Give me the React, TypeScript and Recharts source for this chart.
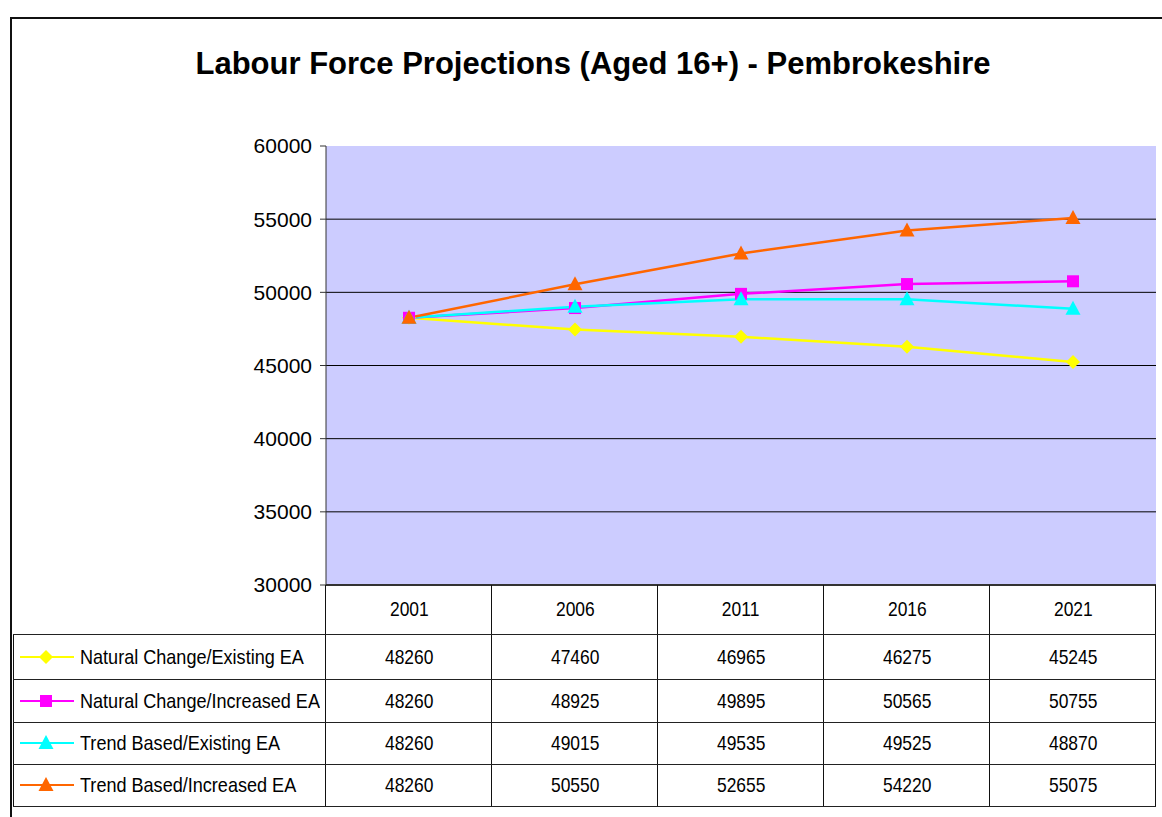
import { LineChart, Line, XAxis, YAxis, CartesianGrid, ReferenceLine } from "recharts";

const years = ["2001", "2006", "2011", "2016", "2021"];
const naturalExisting = [48260, 47460, 46965, 46275, 45245];
const naturalIncreased = [48260, 48925, 49895, 50565, 50755];
const trendExisting = [48260, 49015, 49535, 49525, 48870];
const trendIncreased = [48260, 50550, 52655, 54220, 55075];
const yTicks = [30000, 35000, 40000, 45000, 50000, 55000, 60000];

const seriesList = [
  { key: "natExisting", name: "Natural Change/Existing EA", color: "#FFFF00", shape: "diamond", values: naturalExisting },
  { key: "natIncreased", name: "Natural Change/Increased EA", color: "#FF00FF", shape: "square", values: naturalIncreased },
  { key: "trendExisting", name: "Trend Based/Existing EA", color: "#00FFFF", shape: "triangle", values: trendExisting },
  { key: "trendIncreased", name: "Trend Based/Increased EA", color: "#FF6600", shape: "triangle", values: trendIncreased },
];

const rows = years.map((year, i) => {
  const row: Record<string, string | number> = { year };
  seriesList.forEach((s) => (row[s.key] = s.values[i]));
  return row;
});

// plot box inside the 1162x817 frame
const PLOT_LEFT = 326;
const PLOT_RIGHT = 1156;
const PLOT_TOP = 146;
const PLOT_BOTTOM = 585;
const CHART_W = 1162;
const CHART_H = 600;
const Y_AXIS_W = 70;
const COL_W = (PLOT_RIGHT - PLOT_LEFT) / years.length;
const rowLines = [634, 679, 722, 764, 806];

const arial = '"Liberation Sans", Arial, sans-serif';
// no Arial Narrow here, so squeeze Liberation Sans instead
const NARROW = 0.83;

function Marker({ cx, cy, shape, color }: { cx: number; cy: number; shape: string; color: string }) {
  if (shape === "diamond") {
    return <polygon points={`${cx},${cy - 7} ${cx + 7},${cy} ${cx},${cy + 7} ${cx - 7},${cy}`} fill={color} />;
  }
  if (shape === "square") {
    return <rect x={cx - 6} y={cy - 6} width={12} height={12} fill={color} />;
  }
  return <polygon points={`${cx},${cy - 8} ${cx + 7.5},${cy + 6} ${cx - 7.5},${cy + 6}`} fill={color} />;
}

function LegendKey({ color, shape }: { color: string; shape: string }) {
  return (
    <svg width={54} height={16} style={{ display: "block" }}>
      <line x1={0} y1={8} x2={54} y2={8} stroke={color} strokeWidth={2} />
      <Marker cx={26} cy={8} shape={shape} color={color} />
    </svg>
  );
}

function Narrow({ children, origin = "center", scale = NARROW }: { children: any; origin?: string; scale?: number }) {
  return (
    <span style={{ display: "inline-block", transform: `scaleX(${scale})`, transformOrigin: origin, whiteSpace: "nowrap" }}>
      {children}
    </span>
  );
}

export default function App() {
  return (
    <div style={{ position: "absolute", left: 0, top: 0, width: 1162, height: 817, overflow: "hidden", background: "#fff" }}>
      {/* outer chart frame */}
      <div style={{ position: "absolute", left: 10, top: 17, width: 1200, height: 900, border: "2px solid #111" }} />

      <div
        style={{
          position: "absolute",
          left: 0,
          top: 46,
          width: 1186,
          textAlign: "center",
          fontFamily: arial,
          fontWeight: "bold",
          fontSize: 31,
          color: "#000",
        }}
      >
        Labour Force Projections (Aged 16+) - Pembrokeshire
      </div>

      <div style={{ position: "absolute", left: 0, top: 0 }}>
        <LineChart
          width={CHART_W}
          height={CHART_H}
          data={rows}
          margin={{ top: PLOT_TOP, right: CHART_W - PLOT_RIGHT, bottom: CHART_H - PLOT_BOTTOM, left: PLOT_LEFT - Y_AXIS_W }}
        >
          <CartesianGrid
            vertical={false}
            fill="#CCCCFF"
            fillOpacity={1}
            stroke="#000"
            horizontalValues={[35000, 40000, 45000, 50000, 55000]}
          />
          <XAxis dataKey="year" hide padding={{ left: COL_W / 2, right: COL_W / 2 }} />
          <YAxis
            width={Y_AXIS_W}
            domain={[30000, 60000]}
            ticks={yTicks}
            interval={0}
            tick={{ fontSize: 21, fill: "#000", fontFamily: arial }}
            tickMargin={8}
            axisLine={{ stroke: "#333" }}
            tickLine={{ stroke: "#333" }}
          />
          <ReferenceLine y={30000} stroke="#333" strokeWidth={2} />
          {seriesList.map((s) => (
            <Line
              key={s.key}
              dataKey={s.key}
              name={s.name}
              stroke={s.color}
              strokeWidth={2.5}
              isAnimationActive={false}
              dot={(p: any) => <Marker key={`${s.key}-${p.index}`} cx={p.cx} cy={p.cy} shape={s.shape} color={s.color} />}
              activeDot={false}
            />
          ))}
        </LineChart>
      </div>

      {/* data table */}
      <div style={{ position: "absolute", left: 0, top: 0, fontFamily: arial, fontSize: 21, color: "#000" }}>
        {years.concat([""]).map((_, i) => (
          <div
            key={`v${i}`}
            style={{ position: "absolute", left: PLOT_LEFT + i * COL_W - 1, top: PLOT_BOTTOM, width: 1, height: rowLines[4] - PLOT_BOTTOM, background: "#111" }}
          />
        ))}
        <div style={{ position: "absolute", left: 13, top: rowLines[0], width: 1, height: rowLines[4] - rowLines[0], background: "#111" }} />
        {rowLines.map((y, i) => (
          <div key={`h${i}`} style={{ position: "absolute", left: 13, top: y, width: PLOT_RIGHT - 13, height: 1, background: "#222" }} />
        ))}
        {years.map((y, i) => (
          <div
            key={y}
            style={{ position: "absolute", left: PLOT_LEFT + i * COL_W, top: PLOT_BOTTOM, width: COL_W, height: rowLines[0] - PLOT_BOTTOM, lineHeight: `${rowLines[0] - PLOT_BOTTOM - 2}px`, textAlign: "center" }}
          >
            <Narrow>{y}</Narrow>
          </div>
        ))}
        {seriesList.map((s, r) => {
          const top = rowLines[r];
          const h = rowLines[r + 1] - top;
          return (
            <div key={s.key}>
              <div style={{ position: "absolute", left: 20, top, height: h, display: "flex", alignItems: "center", gap: 6 }}>
                <LegendKey color={s.color} shape={s.shape} />
                <Narrow origin="left" scale={0.86}>{s.name}</Narrow>
              </div>
              {s.values.map((v, i) => (
                <div
                  key={i}
                  style={{ position: "absolute", left: PLOT_LEFT + i * COL_W, top, width: COL_W, height: h, lineHeight: `${h}px`, textAlign: "center" }}
                >
                  <Narrow>{v}</Narrow>
                </div>
              ))}
            </div>
          );
        })}
      </div>
    </div>
  );
}
